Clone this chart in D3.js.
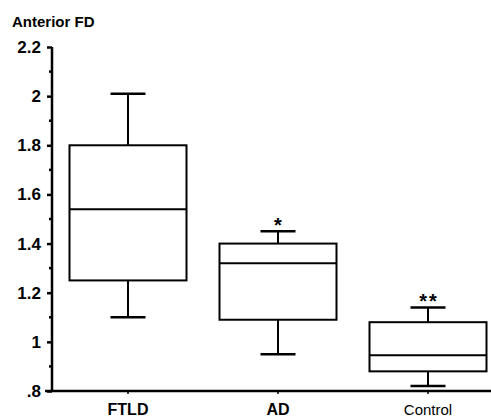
<!DOCTYPE html>
<html>
<head>
<meta charset="UTF-8">
<style>
  body { margin: 0; background: #fff; }
  svg { font-family: "Liberation Sans", Arial, sans-serif; }
  .axis path, .axis line { stroke: #000; stroke-width: 2.5px; }
  .axis text { font-size: 17px; font-weight: bold; fill: #000; }
  .box { fill: none; stroke: #000; stroke-width: 2px; }
</style>
</head>
<body>
<div id="chart"></div>
<script src="https://d3js.org/d3.v7.min.js"></script>
<script>
// values
const categories = ["FTLD", "AD", "Control"];
const whiskerLow = [1.10, 0.95, 0.82];
const q1 = [1.25, 1.09, 0.88];
const median = [1.54, 1.32, 0.945];
const q3 = [1.80, 1.40, 1.08];
const whiskerHigh = [2.01, 1.45, 1.14];
const marks = ["", "*", "**"];
const yTicks = [0.8, 1.0, 1.2, 1.4, 1.6, 1.8, 2.0, 2.2];
const yTickLabels = [".8", "1", "1.2", "1.4", "1.6", "1.8", "2", "2.2"];
const yMinor = [0.9, 1.1, 1.3, 1.5, 1.7, 1.9, 2.1];

const W = 491, H = 418;
const svg = d3.select("#chart").append("svg")
    .attr("width", W).attr("height", H);

const y = d3.scaleLinear().domain([0.8, 2.2]).range([391, 47]);
const x = d3.scalePoint().domain(categories).range([128, 428]);
const boxW = 117, capW = 35;
const axisX = 52;

// title
svg.append("text")
    .attr("x", 12).attr("y", 27)
    .style("font-size", "15px").style("font-weight", "bold")
    .text("Anterior FD");

// y axis
const yAxis = svg.append("g")
    .attr("class", "axis")
    .attr("transform", `translate(${axisX},0)`)
    .call(d3.axisLeft(y).tickValues(yTicks).tickSizeOuter(0).tickSize(5).tickPadding(6)
        .tickFormat((d, i) => yTickLabels[i]));
yAxis.select(".domain").remove();
yAxis.append("line")
    .attr("x1", 0).attr("x2", 0)
    .attr("y1", y(2.2)).attr("y2", y(0.8))
    .attr("stroke", "#000").attr("stroke-width", 2.5);
yAxis.selectAll(".minor")
    .data(yMinor).enter().append("line")
    .attr("class", "minor")
    .attr("x1", -3).attr("x2", 0)
    .attr("y1", d => y(d)).attr("y2", d => y(d))
    .attr("stroke", "#000").attr("stroke-width", 1.5);

// x axis
svg.append("line")
    .attr("x1", 45).attr("x2", W)
    .attr("y1", y(0.8)).attr("y2", y(0.8))
    .attr("stroke", "#000").attr("stroke-width", 2.5);
svg.selectAll(".xtick")
    .data(categories).enter().append("line")
    .attr("class", "xtick")
    .attr("x1", d => x(d)).attr("x2", d => x(d))
    .attr("y1", y(0.8)).attr("y2", y(0.8) + 3)
    .attr("stroke", "#000").attr("stroke-width", 1.5);
svg.selectAll(".xlab")
    .data(categories).enter().append("text")
    .attr("class", "xlab")
    .attr("x", d => x(d)).attr("y", 415)
    .attr("text-anchor", "middle")
    .style("font-size", d => d === "Control" ? "15px" : "16px")
    .style("font-weight", d => d === "Control" ? "normal" : "bold")
    .text(d => d);

// boxes
const g = svg.selectAll(".bp")
    .data(categories).enter().append("g")
    .attr("class", "bp");

g.append("line").attr("class", "box")
    .attr("x1", d => x(d)).attr("x2", d => x(d))
    .attr("y1", (d, i) => y(whiskerHigh[i])).attr("y2", (d, i) => y(q3[i]));
g.append("line").attr("class", "box")
    .attr("x1", d => x(d)).attr("x2", d => x(d))
    .attr("y1", (d, i) => y(q1[i])).attr("y2", (d, i) => y(whiskerLow[i]));
g.append("line").attr("class", "box").style("stroke-width", "2.5px")
    .attr("x1", d => x(d) - capW / 2).attr("x2", d => x(d) + capW / 2)
    .attr("y1", (d, i) => y(whiskerHigh[i])).attr("y2", (d, i) => y(whiskerHigh[i]));
g.append("line").attr("class", "box").style("stroke-width", "2.5px")
    .attr("x1", d => x(d) - capW / 2).attr("x2", d => x(d) + capW / 2)
    .attr("y1", (d, i) => y(whiskerLow[i])).attr("y2", (d, i) => y(whiskerLow[i]));
g.append("rect").attr("class", "box")
    .attr("x", d => x(d) - boxW / 2).attr("width", boxW)
    .attr("y", (d, i) => y(q3[i]))
    .attr("height", (d, i) => y(q1[i]) - y(q3[i]));
g.append("line").attr("class", "box")
    .attr("x1", d => x(d) - boxW / 2).attr("x2", d => x(d) + boxW / 2)
    .attr("y1", (d, i) => y(median[i])).attr("y2", (d, i) => y(median[i]));

// significance marks
g.append("text")
    .attr("x", d => x(d) + 1)
    .attr("y", (d, i) => y(whiskerHigh[i]) + 1)
    .attr("text-anchor", "middle")
    .style("font-size", "20px").style("font-weight", "bold")
    .style("letter-spacing", "2px")
    .text((d, i) => marks[i]);
</script>
</body>
</html>
